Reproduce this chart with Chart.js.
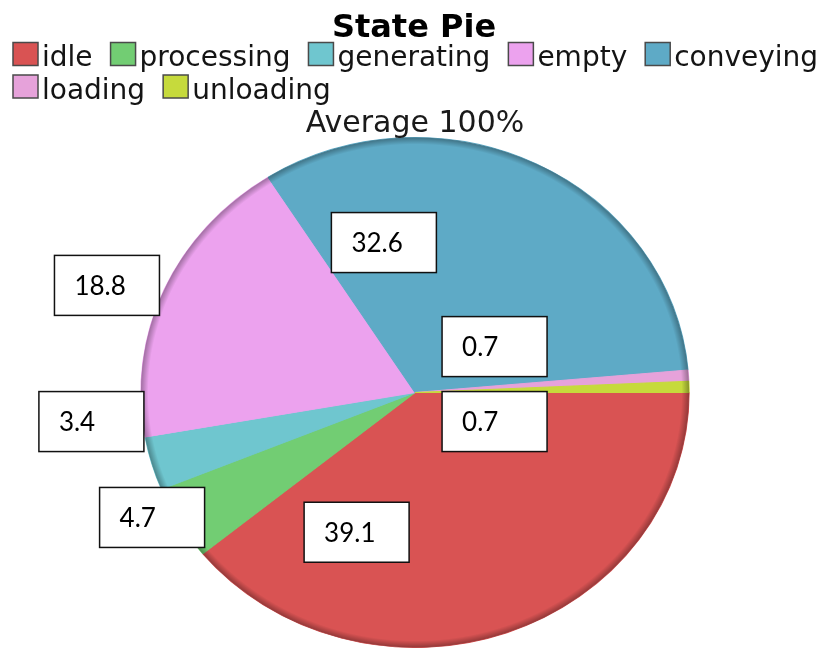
<!DOCTYPE html>
<html lang="en">
<head>
    <meta charset="UTF-8">
    <title>State Pie</title>
    <style>
        body {
            margin: 0;
            background: #ffffff;
            overflow: hidden;
        }
        .chart-box {
            position: relative;
            width: 823px;
            height: 648px;
        }
    </style>
    <script src="https://cdn.jsdelivr.net/npm/chart.js"></script>
</head>
<body>
    <div class="chart-box">
        <canvas id="statePie"></canvas>
    </div>

    <script>
        const states = ['idle', 'processing', 'generating', 'empty', 'conveying', 'loading', 'unloading'];
        const shares = [39.1, 4.7, 3.4, 18.8, 32.6, 0.7, 0.7];

        const stateColors = ['#d95353', '#72cd73', '#6fc6cf', '#eca2ee', '#5eaac6', '#e6a2da', '#c6da3c'];

        // where each value box sits, measured from the pie centre in pie radii
        const boxSpots = [
            [-0.229, 0.548],
            [-1.031, 0.490],
            [-1.269, 0.114],
            [-1.208, -0.420],
            [-0.122, -0.588],
            [0.312, -0.180],
            [0.312, 0.114]
        ];

        // the pie is drawn slightly wider than it is tall
        const squash = 1.075;

        const total = shares.reduce((a, b) => a + b, 0);

        const pieDecor = {
            id: 'pieDecor',
            beforeDatasetsDraw(chart) {
                const arc = chart.getDatasetMeta(0).data[0];
                const ctx = chart.ctx;
                ctx.save();
                ctx.translate(arc.x, arc.y);
                ctx.scale(squash, 1);
                ctx.translate(-arc.x, -arc.y);
            },
            afterDatasetsDraw(chart) {
                const ctx = chart.ctx;
                const arc = chart.getDatasetMeta(0).data[0];
                const r = arc.outerRadius;

                // darker rim round the edge
                const rim = ctx.createRadialGradient(arc.x, arc.y, r - 7, arc.x, arc.y, r);
                rim.addColorStop(0, 'rgba(0,0,0,0)');
                rim.addColorStop(1, 'rgba(0,0,0,0.32)');
                ctx.beginPath();
                ctx.arc(arc.x, arc.y, r, 0, Math.PI * 2);
                ctx.fillStyle = rim;
                ctx.fill();
                ctx.restore();

                // value boxes
                ctx.save();
                ctx.font = '26px Lato';
                ctx.textBaseline = 'middle';
                ctx.textAlign = 'left';
                boxSpots.forEach((spot, i) => {
                    const cx = arc.x + spot[0] * r;
                    const cy = arc.y + spot[1] * r;
                    const w = 105, h = 60;
                    ctx.fillStyle = '#ffffff';
                    ctx.fillRect(cx - w / 2, cy - h / 2, w, h);
                    ctx.lineWidth = 1.5;
                    ctx.strokeStyle = '#111111';
                    ctx.strokeRect(cx - w / 2, cy - h / 2, w, h);
                    ctx.fillStyle = '#000000';
                    ctx.fillText(shares[i].toFixed(1), cx - w / 2 + 20, cy + 1);
                });
                ctx.restore();
            },
            afterDraw(chart) {
                const ctx = chart.ctx;
                ctx.save();

                ctx.fillStyle = '#000000';
                ctx.textAlign = 'center';
                ctx.textBaseline = 'alphabetic';
                ctx.font = 'bold 32px "DejaVu Sans"';
                ctx.fillText('State Pie', 414, 37);

                // legend, wrapped into rows
                ctx.font = '28px "DejaVu Sans"';
                ctx.textAlign = 'left';
                let x = 13, row = 0;
                states.forEach((name, i) => {
                    const tw = ctx.measureText(name).width;
                    const itemW = 25 + 4 + tw;
                    if (x + itemW > chart.width - 2) {
                        x = 13;
                        row++;
                    }
                    const top = 42.5 + row * 32.5;
                    ctx.fillStyle = stateColors[i];
                    ctx.fillRect(x, top, 25, 23);
                    ctx.lineWidth = 1.5;
                    ctx.strokeStyle = '#4a4a4a';
                    ctx.strokeRect(x, top, 25, 23);
                    ctx.fillStyle = '#141414';
                    ctx.fillText(name, x + 29, top + 23.5);
                    x += itemW + 18;
                });

                ctx.font = '30px "DejaVu Sans"';
                ctx.textAlign = 'center';
                ctx.fillStyle = '#1a1a1a';
                ctx.fillText('Average ' + Math.round(total) + '%', 415, 131.5);
                ctx.restore();
            }
        };

        new Chart(document.getElementById('statePie'), {
            type: 'pie',
            data: {
                labels: states,
                datasets: [{
                    data: shares,
                    backgroundColor: stateColors,
                    borderColor: stateColors,
                    borderWidth: 1,
                    hoverOffset: 0
                }]
            },
            options: {
                responsive: true,
                maintainAspectRatio: false,
                animation: false,
                rotation: 90,
                layout: {
                    padding: { top: 137, left: 7, right: 0, bottom: 0 }
                },
                plugins: {
                    legend: { display: false },
                    tooltip: { enabled: false }
                },
                events: []
            },
            plugins: [pieDecor]
        });
    </script>
</body>
</html>
